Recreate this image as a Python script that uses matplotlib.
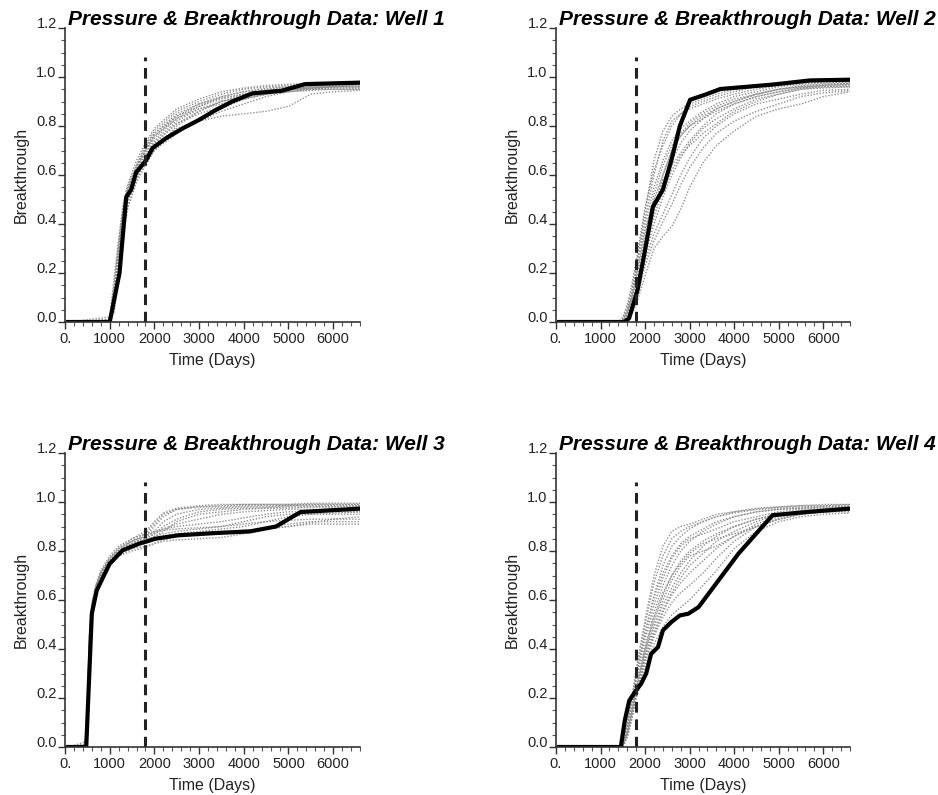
import matplotlib
matplotlib.use("Agg")
import matplotlib.pyplot as plt
from matplotlib.ticker import MultipleLocator, FuncFormatter

plt.rcParams['font.family'] = ['Liberation Sans', 'DejaVu Sans']

titles = ["Pressure & Breakthrough Data: Well 1", "Pressure & Breakthrough Data: Well 2",
          "Pressure & Breakthrough Data: Well 3", "Pressure & Breakthrough Data: Well 4"]
history_end = 1800  # end of history-matching period (days)

# ---- Well 1 ----
w1_obs_t = [70, 1000, 1220, 1370, 1480, 1590, 1815, 1960, 2260, 2630, 3000, 3370, 3740, 4190, 4850, 5370, 6600]
w1_obs_v = [0, 0, 0.2, 0.51, 0.54, 0.61, 0.66, 0.71, 0.75, 0.79, 0.825, 0.865, 0.90, 0.933, 0.944, 0.971, 0.977]
w1_sim_t = [70, 1000, 1100, 1200, 1300, 1400, 1600, 1800, 2000, 2500, 3000, 3500, 4000, 4500, 5000, 5500, 6000, 6600]
w1_sims = [
    [0, 0, 0.12, 0.30, 0.45, 0.53, 0.62, 0.70, 0.76, 0.84, 0.89, 0.92, 0.94, 0.95, 0.96, 0.965, 0.97, 0.975],
    [0, 0, 0.08, 0.25, 0.40, 0.50, 0.60, 0.68, 0.73, 0.81, 0.86, 0.90, 0.92, 0.94, 0.95, 0.955, 0.96, 0.965],
    [0, 0.01, 0.15, 0.32, 0.47, 0.55, 0.64, 0.72, 0.78, 0.86, 0.90, 0.93, 0.95, 0.96, 0.965, 0.97, 0.97, 0.97],
    [0, 0, 0.05, 0.20, 0.36, 0.47, 0.58, 0.66, 0.71, 0.78, 0.83, 0.87, 0.91, 0.93, 0.95, 0.96, 0.965, 0.97],
    [0, 0, 0.10, 0.28, 0.43, 0.52, 0.61, 0.67, 0.72, 0.79, 0.82, 0.84, 0.85, 0.86, 0.88, 0.93, 0.94, 0.945],
    [0, 0, 0.06, 0.22, 0.38, 0.49, 0.59, 0.65, 0.70, 0.77, 0.82, 0.86, 0.89, 0.92, 0.94, 0.95, 0.95, 0.95],
    [0, 0.02, 0.18, 0.34, 0.48, 0.56, 0.66, 0.73, 0.79, 0.87, 0.91, 0.94, 0.955, 0.965, 0.97, 0.975, 0.975, 0.975],
    [0, 0, 0.09, 0.27, 0.42, 0.51, 0.62, 0.69, 0.75, 0.83, 0.88, 0.91, 0.93, 0.945, 0.955, 0.96, 0.96, 0.96],
    [0, 0, 0.04, 0.18, 0.34, 0.46, 0.57, 0.64, 0.70, 0.80, 0.86, 0.90, 0.93, 0.945, 0.95, 0.955, 0.96, 0.96],
    [0, 0, 0.11, 0.29, 0.44, 0.53, 0.63, 0.71, 0.77, 0.85, 0.89, 0.915, 0.93, 0.94, 0.95, 0.95, 0.955, 0.955],
    [0, 0, 0.07, 0.24, 0.39, 0.50, 0.61, 0.68, 0.74, 0.82, 0.87, 0.90, 0.92, 0.93, 0.94, 0.945, 0.95, 0.95],
    [0, 0.01, 0.13, 0.31, 0.46, 0.54, 0.63, 0.70, 0.76, 0.83, 0.87, 0.89, 0.91, 0.93, 0.94, 0.95, 0.96, 0.97],
    [0, 0, 0.08, 0.26, 0.41, 0.51, 0.60, 0.67, 0.73, 0.81, 0.85, 0.88, 0.91, 0.93, 0.945, 0.955, 0.96, 0.96],
    [0, 0, 0.14, 0.31, 0.45, 0.54, 0.64, 0.71, 0.77, 0.84, 0.88, 0.92, 0.94, 0.955, 0.96, 0.965, 0.97, 0.97],
]

# ---- Well 2 ----
w2_obs_t = [70, 1530, 1640, 1830, 1985, 2175, 2400, 2590, 2780, 3010, 3350, 3690, 4860, 5700, 6600]
w2_obs_v = [0, 0, 0.015, 0.13, 0.28, 0.47, 0.54, 0.66, 0.80, 0.907, 0.928, 0.951, 0.969, 0.986, 0.989]
w2_sim_t = [70, 1400, 1500, 1600, 1700, 1800, 1900, 2000, 2200, 2400, 2600, 2800, 3000, 3300, 3600, 4000, 4500, 5000, 5500, 6000, 6600]
w2_sims = [
    [0, 0, 0.01, 0.05, 0.12, 0.22, 0.34, 0.45, 0.66, 0.78, 0.84, 0.87, 0.89, 0.91, 0.93, 0.95, 0.96, 0.97, 0.98, 0.985, 0.99],
    [0, 0, 0.02, 0.07, 0.15, 0.25, 0.36, 0.47, 0.62, 0.72, 0.80, 0.85, 0.88, 0.90, 0.92, 0.94, 0.96, 0.97, 0.975, 0.98, 0.98],
    [0, 0, 0, 0.04, 0.10, 0.18, 0.27, 0.36, 0.52, 0.64, 0.72, 0.77, 0.81, 0.85, 0.88, 0.91, 0.93, 0.95, 0.96, 0.97, 0.975],
    [0, 0, 0, 0.03, 0.08, 0.15, 0.23, 0.31, 0.45, 0.57, 0.66, 0.73, 0.78, 0.83, 0.87, 0.90, 0.93, 0.95, 0.96, 0.965, 0.97],
    [0, 0, 0, 0.02, 0.06, 0.12, 0.19, 0.27, 0.40, 0.51, 0.60, 0.67, 0.73, 0.79, 0.83, 0.87, 0.91, 0.93, 0.95, 0.96, 0.96],
    [0, 0, 0, 0.01, 0.03, 0.07, 0.13, 0.19, 0.30, 0.35, 0.39, 0.46, 0.55, 0.65, 0.72, 0.78, 0.84, 0.87, 0.89, 0.92, 0.94],
    [0, 0, 0, 0.02, 0.05, 0.10, 0.16, 0.23, 0.33, 0.41, 0.48, 0.56, 0.63, 0.71, 0.77, 0.82, 0.86, 0.89, 0.92, 0.935, 0.945],
    [0, 0, 0.01, 0.05, 0.11, 0.20, 0.30, 0.40, 0.55, 0.66, 0.74, 0.79, 0.82, 0.86, 0.89, 0.92, 0.94, 0.96, 0.97, 0.975, 0.98],
    [0, 0, 0, 0.03, 0.09, 0.17, 0.26, 0.34, 0.48, 0.58, 0.64, 0.69, 0.74, 0.80, 0.85, 0.89, 0.92, 0.94, 0.955, 0.96, 0.965],
    [0, 0, 0.01, 0.06, 0.13, 0.23, 0.33, 0.42, 0.60, 0.74, 0.82, 0.85, 0.87, 0.89, 0.91, 0.93, 0.95, 0.965, 0.975, 0.98, 0.985],
    [0, 0, 0, 0.02, 0.07, 0.13, 0.21, 0.29, 0.43, 0.54, 0.62, 0.68, 0.72, 0.77, 0.81, 0.86, 0.90, 0.93, 0.95, 0.955, 0.96],
    [0, 0, 0, 0.02, 0.06, 0.11, 0.18, 0.25, 0.36, 0.44, 0.52, 0.60, 0.67, 0.75, 0.80, 0.85, 0.89, 0.91, 0.93, 0.945, 0.95],
    [0, 0, 0.01, 0.04, 0.10, 0.19, 0.29, 0.38, 0.50, 0.60, 0.70, 0.76, 0.80, 0.84, 0.87, 0.90, 0.93, 0.95, 0.965, 0.97, 0.975],
    [0, 0, 0, 0.03, 0.08, 0.14, 0.22, 0.30, 0.46, 0.60, 0.70, 0.76, 0.80, 0.83, 0.86, 0.89, 0.92, 0.94, 0.955, 0.965, 0.97],
]

# ---- Well 3 ----
w3_obs_t = [70, 475, 525, 600, 710, 855, 1000, 1290, 1660, 2020, 2530, 3340, 4140, 4720, 5270, 6600]
w3_obs_v = [0, 0, 0.218, 0.544, 0.639, 0.694, 0.748, 0.803, 0.83, 0.85, 0.864, 0.873, 0.88, 0.90, 0.959, 0.973]
w3_sim_t = [70, 450, 500, 550, 600, 700, 800, 1000, 1200, 1500, 1800, 2000, 2200, 2500, 3000, 3500, 4000, 4500, 5000, 5500, 6000, 6600]
w3_sims = [
    [0, 0, 0.15, 0.45, 0.57, 0.66, 0.71, 0.77, 0.81, 0.84, 0.86, 0.90, 0.94, 0.97, 0.98, 0.985, 0.99, 0.99, 0.99, 0.995, 0.995, 0.995],
    [0, 0, 0.12, 0.42, 0.55, 0.65, 0.70, 0.76, 0.80, 0.83, 0.86, 0.88, 0.92, 0.95, 0.97, 0.975, 0.98, 0.98, 0.985, 0.99, 0.99, 0.99],
    [0, 0, 0.10, 0.40, 0.53, 0.63, 0.69, 0.75, 0.79, 0.82, 0.84, 0.86, 0.88, 0.92, 0.95, 0.96, 0.97, 0.975, 0.98, 0.98, 0.98, 0.985],
    [0, 0, 0.08, 0.38, 0.52, 0.62, 0.68, 0.74, 0.78, 0.81, 0.82, 0.83, 0.84, 0.845, 0.85, 0.855, 0.87, 0.89, 0.90, 0.91, 0.91, 0.91],
    [0, 0.02, 0.18, 0.48, 0.59, 0.67, 0.72, 0.78, 0.82, 0.85, 0.87, 0.88, 0.885, 0.89, 0.895, 0.90, 0.91, 0.92, 0.925, 0.93, 0.93, 0.93],
    [0, 0, 0.14, 0.44, 0.56, 0.65, 0.70, 0.76, 0.80, 0.83, 0.85, 0.87, 0.89, 0.91, 0.93, 0.95, 0.96, 0.965, 0.97, 0.97, 0.97, 0.97],
    [0, 0, 0.11, 0.41, 0.54, 0.64, 0.69, 0.75, 0.79, 0.82, 0.84, 0.85, 0.86, 0.87, 0.88, 0.89, 0.90, 0.92, 0.94, 0.95, 0.955, 0.96],
    [0, 0.01, 0.16, 0.46, 0.58, 0.66, 0.71, 0.77, 0.81, 0.84, 0.87, 0.91, 0.95, 0.97, 0.98, 0.98, 0.985, 0.985, 0.985, 0.985, 0.985, 0.985],
    [0, 0, 0.09, 0.39, 0.52, 0.62, 0.68, 0.74, 0.78, 0.80, 0.815, 0.83, 0.845, 0.86, 0.87, 0.875, 0.88, 0.895, 0.91, 0.92, 0.92, 0.92],
    [0, 0, 0.13, 0.43, 0.56, 0.65, 0.70, 0.76, 0.80, 0.84, 0.86, 0.875, 0.89, 0.90, 0.91, 0.92, 0.935, 0.95, 0.96, 0.96, 0.96, 0.96],
    [0, 0, 0.12, 0.42, 0.55, 0.64, 0.70, 0.76, 0.80, 0.83, 0.85, 0.87, 0.90, 0.93, 0.96, 0.97, 0.975, 0.975, 0.975, 0.98, 0.98, 0.98],
    [0, 0, 0.10, 0.40, 0.54, 0.63, 0.69, 0.75, 0.79, 0.82, 0.84, 0.86, 0.87, 0.88, 0.89, 0.90, 0.92, 0.94, 0.95, 0.95, 0.95, 0.95],
    [0, 0.01, 0.17, 0.47, 0.58, 0.66, 0.71, 0.77, 0.81, 0.85, 0.88, 0.92, 0.955, 0.975, 0.985, 0.99, 0.99, 0.99, 0.99, 0.99, 0.99, 0.99],
    [0, 0, 0.11, 0.41, 0.54, 0.64, 0.69, 0.75, 0.79, 0.82, 0.83, 0.845, 0.86, 0.87, 0.875, 0.88, 0.885, 0.89, 0.90, 0.915, 0.93, 0.94],
]

# ---- Well 4 ----
w4_obs_t = [70, 1455, 1545, 1645, 1795, 1910, 2025, 2135, 2290, 2400, 2590, 2780, 2970, 3200, 4100, 4860, 5620, 6600]
w4_obs_v = [0, 0, 0.109, 0.19, 0.23, 0.258, 0.30, 0.38, 0.408, 0.476, 0.51, 0.537, 0.544, 0.571, 0.79, 0.946, 0.959, 0.973]
w4_sim_t = [70, 1400, 1500, 1600, 1700, 1800, 2000, 2200, 2400, 2600, 2800, 3000, 3300, 3600, 4000, 4500, 5000, 5500, 6000, 6600]
w4_sims = [
    [0, 0, 0.02, 0.10, 0.20, 0.32, 0.52, 0.70, 0.82, 0.88, 0.90, 0.91, 0.93, 0.95, 0.96, 0.975, 0.98, 0.985, 0.99, 0.99],
    [0, 0, 0.01, 0.08, 0.17, 0.28, 0.46, 0.62, 0.74, 0.82, 0.86, 0.89, 0.92, 0.94, 0.955, 0.97, 0.975, 0.98, 0.985, 0.985],
    [0, 0, 0.01, 0.07, 0.15, 0.25, 0.41, 0.55, 0.66, 0.74, 0.80, 0.84, 0.88, 0.91, 0.94, 0.96, 0.97, 0.975, 0.98, 0.98],
    [0, 0, 0, 0.05, 0.13, 0.22, 0.37, 0.49, 0.58, 0.65, 0.71, 0.76, 0.82, 0.86, 0.90, 0.93, 0.95, 0.965, 0.97, 0.975],
    [0, 0, 0, 0.04, 0.11, 0.20, 0.32, 0.42, 0.49, 0.54, 0.57, 0.60, 0.66, 0.72, 0.81, 0.88, 0.92, 0.94, 0.95, 0.955],
    [0, 0, 0, 0.05, 0.12, 0.21, 0.35, 0.46, 0.55, 0.62, 0.67, 0.71, 0.76, 0.81, 0.86, 0.91, 0.94, 0.955, 0.965, 0.97],
    [0, 0, 0.01, 0.06, 0.14, 0.24, 0.39, 0.52, 0.62, 0.70, 0.76, 0.80, 0.84, 0.87, 0.90, 0.93, 0.95, 0.96, 0.97, 0.975],
    [0, 0, 0.01, 0.09, 0.18, 0.29, 0.47, 0.61, 0.71, 0.78, 0.83, 0.86, 0.89, 0.92, 0.94, 0.96, 0.97, 0.975, 0.98, 0.98],
    [0, 0, 0, 0.05, 0.13, 0.23, 0.38, 0.50, 0.60, 0.68, 0.74, 0.78, 0.80, 0.82, 0.86, 0.90, 0.93, 0.95, 0.96, 0.965],
    [0, 0, 0, 0.04, 0.12, 0.21, 0.34, 0.45, 0.53, 0.59, 0.63, 0.66, 0.71, 0.77, 0.84, 0.90, 0.93, 0.95, 0.96, 0.96],
    [0, 0, 0.01, 0.07, 0.16, 0.27, 0.44, 0.58, 0.69, 0.77, 0.82, 0.85, 0.87, 0.89, 0.92, 0.94, 0.96, 0.97, 0.975, 0.98],
    [0, 0, 0.02, 0.09, 0.19, 0.30, 0.50, 0.67, 0.78, 0.85, 0.88, 0.90, 0.92, 0.94, 0.96, 0.97, 0.98, 0.985, 0.985, 0.99],
    [0, 0, 0, 0.05, 0.12, 0.22, 0.36, 0.47, 0.56, 0.63, 0.69, 0.74, 0.79, 0.84, 0.88, 0.92, 0.95, 0.96, 0.97, 0.97],
    [0, 0, 0, 0.06, 0.14, 0.23, 0.40, 0.53, 0.63, 0.70, 0.75, 0.79, 0.83, 0.85, 0.87, 0.90, 0.93, 0.95, 0.96, 0.965],
]

wells = [
    (w1_obs_t, w1_obs_v, w1_sim_t, w1_sims),
    (w2_obs_t, w2_obs_v, w2_sim_t, w2_sims),
    (w3_obs_t, w3_obs_v, w3_sim_t, w3_sims),
    (w4_obs_t, w4_obs_v, w4_sim_t, w4_sims),
]

# axes boxes in figure pixels: left, bottom(y from top), right, top
W, H = 938, 795
boxes = [(65, 322, 360, 28), (556, 322, 850, 28), (65, 747, 360, 453), (556, 747, 850, 453)]

fig = plt.figure(figsize=(W / 100, H / 100), dpi=100)

for (obs_t, obs_v, sim_t, sims), title, (x0, yb, x1, yt) in zip(wells, titles, boxes):
    ax = fig.add_axes([x0 / W, 1 - yb / H, (x1 - x0) / W, (yb - yt) / H])
    for s in sims:
        ax.plot(sim_t, s, color='#8f8f8f', lw=1.0, ls=(0, (1, 1.2)))
    ax.plot(obs_t, obs_v, color='black', lw=3.0, solid_joinstyle='round')
    ax.plot([history_end, history_end], [0, 1.08], color='#222222', lw=2.2, ls=(0, (3.5, 2.2)))

    ax.set_xlim(0, 6600)
    ax.set_ylim(0, 1.2)
    ax.spines['top'].set_visible(False)
    ax.spines['right'].set_visible(False)
    for sp in ('left', 'bottom'):
        ax.spines[sp].set_linewidth(1.2)
        ax.spines[sp].set_color('#333333')

    ax.xaxis.set_major_locator(MultipleLocator(1000))
    ax.xaxis.set_minor_locator(MultipleLocator(200))
    ax.yaxis.set_major_locator(MultipleLocator(0.2))
    ax.yaxis.set_minor_locator(MultipleLocator(0.05))
    ax.xaxis.set_major_formatter(FuncFormatter(lambda v, p: "0." if v == 0 else f"{v:.0f}"))
    ax.yaxis.set_major_formatter(FuncFormatter(lambda v, p: f"{v:.1f}"))
    ax.tick_params(which='major', length=5, width=1, color='#333333', labelsize=10.5, labelcolor='#222222')
    ax.tick_params(which='minor', length=3, width=0.8, color='#555555')
    ax.tick_params(axis='y', pad=1)
    ax.tick_params(axis='x', pad=2)
    for lab in ax.get_yticklabels():
        lab.set_verticalalignment('baseline')

    ax.set_xlabel("Time (Days)", fontsize=11.5, color='#222222', labelpad=5)
    ax.set_ylabel("Breakthrough", fontsize=11.5, color='#222222', labelpad=5)
    ax.text(0.01, 1.01, title, transform=ax.transAxes, fontsize=15,
            fontweight='bold', fontstyle='italic', ha='left', va='baseline')

fig.savefig("out.png", dpi=100)
